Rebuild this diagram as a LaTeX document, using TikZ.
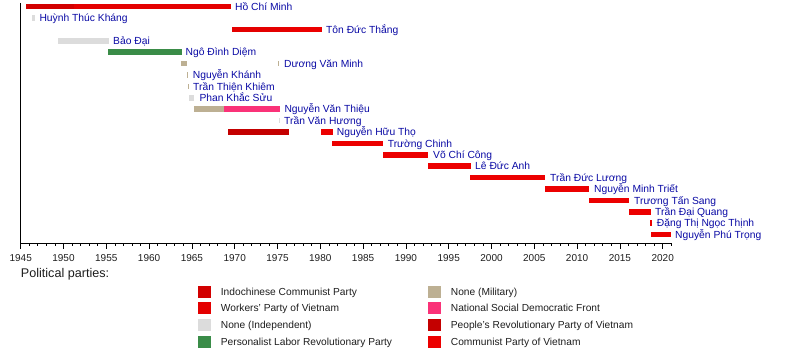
\documentclass[tikz,border=0pt]{standalone}
\usepackage{fontspec}
\setmainfont{Liberation Sans}
\definecolor{icp}{RGB}{210,0,0}
\definecolor{wpv}{RGB}{228,0,0}
\definecolor{ind}{RGB}{220,220,220}
\definecolor{plr}{RGB}{58,140,72}
\definecolor{mil}{RGB}{189,176,147}
\definecolor{nsdf}{RGB}{250,50,120}
\definecolor{prp}{RGB}{196,0,0}
\definecolor{cpv}{RGB}{236,0,0}
\definecolor{lblblue}{RGB}{10,10,165}
\definecolor{txtgray}{RGB}{30,30,30}
\newcommand\tbar[4]{\fill[#4] (#1,{6.7+(#3-1)*11.4-2.8}) rectangle (#2,{6.7+(#3-1)*11.4+2.8});}
\newcommand\tlabel[4]{\node[lbl] (#1) at (#2,{6.7+(#3-1)*11.4+3.7}) {#4};}
\newcommand\legitem[5]{\fill[#4] (#2,{#3-6}) rectangle ++(12.6,12);
  \node[legtxt] (#1) at ({#2+22.4},{#3+3.6}) {#5};}
\tikzset{
  lbl/.style={anchor=base west,inner sep=0pt,text=lblblue,font=\fontsize{10.3}{12}\selectfont},
  legtxt/.style={anchor=base west,inner sep=0pt,text=txtgray,font=\fontsize{10.2}{12}\selectfont},
  yearlbl/.style={anchor=base,inner sep=0pt,text=txtgray,font=\fontsize{10}{12}\selectfont},
  axisline/.style={line width=0.9pt,black}
}
\begin{document}
\begin{tikzpicture}[x=1pt,y=-1pt]
\useasboundingbox (0,0) rectangle (800,363);
\fill[white] (0,0) rectangle (800,363);
% bars
\tbar{25.5}{74}{1}{icp}
\tbar{74}{231}{1}{wpv}
\tlabel{hcm}{235}{1}{Hồ Chí Minh}
\tbar{31.7}{35}{2}{ind}
\tlabel{htk}{39.3}{2}{Huỳnh Thúc Kháng}
\tbar{232}{290}{3}{wpv}
\tbar{290}{321.5}{3}{cpv}
\tlabel{tdt}{326}{3}{Tôn Đức Thắng}
\tbar{58}{108.5}{4}{ind}
\tlabel{bd}{113}{4}{Bảo Đại}
\tbar{108}{181.5}{5}{plr}
\tlabel{ndd}{185.5}{5}{Ngô Đình Diệm}
\tbar{181}{187.3}{6}{mil}
\tbar{278.3}{279.4}{6}{mil}
\tlabel{dvm}{284}{6}{Dương Văn Minh}
\tbar{187}{188.2}{7}{mil}
\tlabel{nk}{192.7}{7}{Nguyễn Khánh}
\tbar{187.8}{188.8}{8}{mil}
\tlabel{ttk}{193}{8}{Trần Thiện Khiêm}
\tbar{189.3}{194.3}{9}{ind}
\tlabel{pks}{199.3}{9}{Phan Khắc Sửu}
\tbar{194}{224.3}{10}{mil}
\tbar{224.3}{280}{10}{nsdf}
\tlabel{nvt}{284.3}{10}{Nguyễn Văn Thiệu}
\tbar{279.2}{280.4}{11}{ind}
\tlabel{tvh}{284}{11}{Trần Văn Hương}
\tbar{227.7}{289}{12}{prp}
\tbar{321}{332.7}{12}{cpv}
\tlabel{nht}{336.7}{12}{Nguyễn Hữu Thọ}
\tbar{332}{383.3}{13}{cpv}
\tlabel{tc}{387.7}{13}{Trường Chinh}
\tbar{383.3}{428.3}{14}{cpv}
\tlabel{vcc}{433}{14}{Võ Chí Công}
\tbar{428.3}{470.7}{15}{cpv}
\tlabel{lda}{475}{15}{Lê Đức Anh}
\tbar{470}{545.3}{16}{cpv}
\tlabel{tdl}{550}{16}{Trần Đức Lương}
\tbar{545.3}{589.3}{17}{cpv}
\tlabel{nmt}{594}{17}{Nguyễn Minh Triết}
\tbar{589.3}{629.3}{18}{cpv}
\tlabel{tts}{634}{18}{Trương Tấn Sang}
\tbar{629.3}{650.7}{19}{cpv}
\tlabel{tdq}{655}{19}{Trần Đại Quang}
\tbar{650}{652}{20}{cpv}
\tlabel{dtnt}{656.7}{20}{Đặng Thị Ngọc Thịnh}
\tbar{651}{671}{21}{cpv}
\tlabel{npt}{675}{21}{Nguyễn Phú Trọng}
% axes
\coordinate (o) at (20.7,243.3);
\coordinate (top) at (20.7,3);
\coordinate (xend) at (671.3,243.3);
\draw[axisline] (top) -- (o) -- (xend);
\foreach \yr in {1945,...,2021}
  \draw[line width=0.7pt] ({20.7+(\yr-1945)*8.56},243.3) -- ++(0,3.2);
\foreach \yr in {1945,1950,...,2020}{
  \draw[line width=0.7pt] ({20.7+(\yr-1945)*8.56},243.3) -- ++(0,5.5);
  \node[yearlbl] (y\yr) at ({20.7+(\yr-1945)*8.56},261.8) {\yr};
}
\node[anchor=base west,inner sep=0pt,text=txtgray,font=\fontsize{12.6}{14}\selectfont] (pp) at (20.7,277.7) {Political parties:};
% legend
\legitem{l1}{198.3}{291.5}{icp}{Indochinese Communist Party}
\legitem{l2}{198.3}{308.3}{wpv}{Workers' Party of Vietnam}
\legitem{l3}{198.3}{325.2}{ind}{None (Independent)}
\legitem{l4}{198.3}{342.2}{plr}{Personalist Labor Revolutionary Party}
\legitem{l5}{428.3}{291.5}{mil}{None (Military)}
\legitem{l6}{428.3}{308.3}{nsdf}{National Social Democratic Front}
\legitem{l7}{428.3}{325.2}{prp}{People's Revolutionary Party of Vietnam}
\legitem{l8}{428.3}{342.2}{cpv}{Communist Party of Vietnam}
\end{tikzpicture}
\end{document}
